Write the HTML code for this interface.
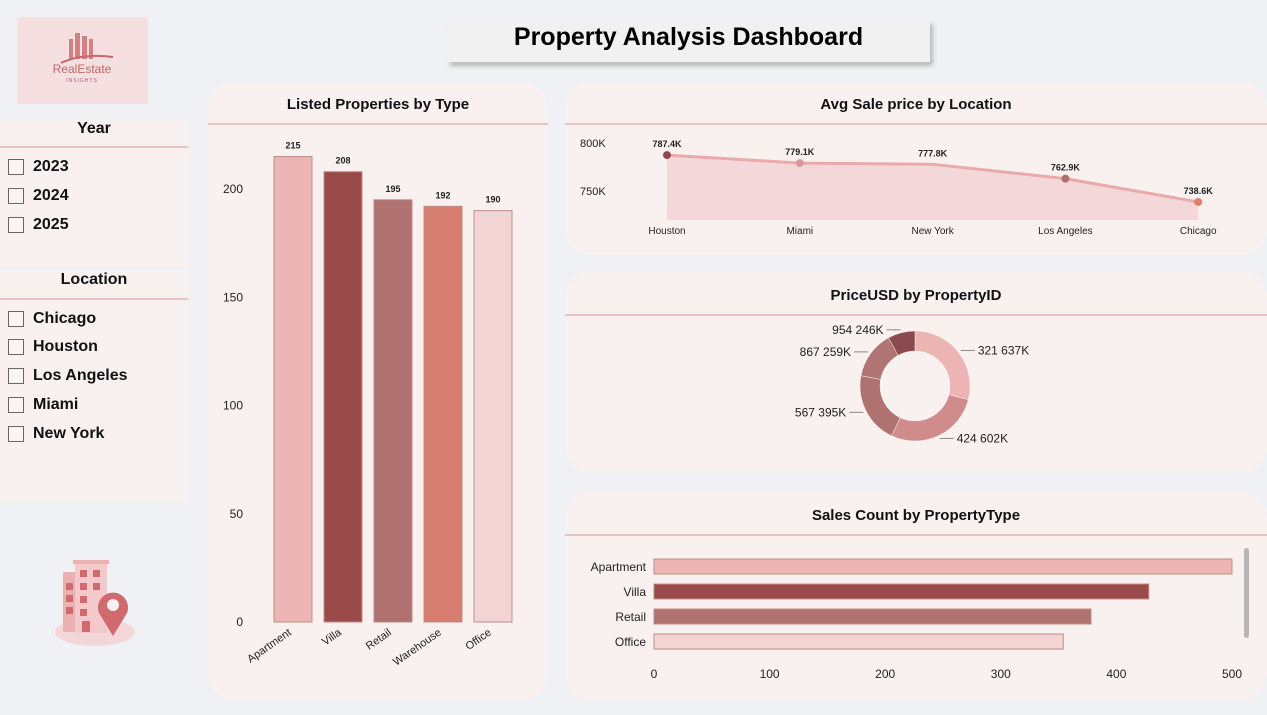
<!DOCTYPE html>
<html><head><meta charset="utf-8"><style>
body{margin:0;width:1267px;height:715px;background:#eff1f4;font-family:"Liberation Sans",Arial,sans-serif;position:relative;overflow:hidden}
.p{position:absolute;background:#f8f1f0;box-sizing:border-box}
.t{position:absolute;font-weight:bold;color:#111;text-align:center}
.ln{position:absolute;height:2px;background:#e6c4c4}
.it{position:absolute;left:8px;font-weight:bold;font-size:16px;color:#111;display:flex;align-items:center}
.cb{width:14px;height:14px;border:1px solid #666;margin-right:9px;background:#faf5f4}
svg text{font-family:"Liberation Sans",Arial,sans-serif}
</style></head><body>
<div style="position:absolute;left:17px;top:17px;width:131px;height:87px;background:#f6dfe0">
<svg width="131" height="87"><g fill="#d48080"><rect x="52" y="22" width="4" height="20"/><rect x="58" y="16" width="5" height="26"/><rect x="65" y="19" width="5" height="23"/><rect x="72" y="22" width="4" height="20"/></g><path d="M44 46 Q65 36 96 40" stroke="#c86a6a" stroke-width="2" fill="none"/>
<text x="65" y="56" font-size="12" fill="#c06868" text-anchor="middle">RealEstate</text><text x="65" y="65" font-size="5" fill="#b06060" text-anchor="middle" letter-spacing="1">INSIGHTS</text></svg></div>
<div style="position:absolute;left:447px;top:20px;width:483px;height:42px;background:#f1f1f2;box-shadow:3px 4px 4px #bbb;text-align:center;font-weight:bold;font-size:25px;line-height:34px;color:#000">Property Analysis Dashboard</div>

<div class="p" style="left:0;top:120px;width:188px;height:148px;border-radius:3px">
<div class="t" style="left:0;width:188px;top:0;font-size:16px">Year</div><div class="ln" style="left:0;width:188px;top:26px"></div>
<div class="it" style="top:38px"><span class="cb"></span>2023</div>
<div class="it" style="top:67px"><span class="cb"></span>2024</div>
<div class="it" style="top:96px"><span class="cb"></span>2025</div></div>

<div class="p" style="left:0;top:271px;width:188px;height:231px;border-radius:3px">
<div class="t" style="left:0;width:188px;top:0;font-size:16px">Location</div><div class="ln" style="left:0;width:188px;top:27px"></div>
<div class="it" style="top:39px"><span class="cb"></span>Chicago</div>
<div class="it" style="top:67px"><span class="cb"></span>Houston</div>
<div class="it" style="top:96px"><span class="cb"></span>Los Angeles</div>
<div class="it" style="top:125px"><span class="cb"></span>Miami</div>
<div class="it" style="top:154px"><span class="cb"></span>New York</div></div>

<svg style="position:absolute;left:50px;top:555px" width="90" height="100"><ellipse cx="45" cy="77" rx="40" ry="14" fill="#f2d6d8"/><rect x="13" y="17" width="18" height="60" fill="#eab1b3"/><rect x="25" y="8" width="32" height="70" fill="#f3c9cb"/><rect x="23" y="5" width="36" height="4" fill="#eab1b3"/>
<g fill="#d06a6e"><rect x="30" y="15" width="7" height="7"/><rect x="43" y="15" width="7" height="7"/><rect x="30" y="28" width="7" height="7"/><rect x="43" y="28" width="7" height="7"/><rect x="30" y="41" width="7" height="7"/><rect x="30" y="54" width="7" height="7"/><rect x="16" y="28" width="7" height="7"/><rect x="16" y="40" width="7" height="7"/><rect x="16" y="52" width="7" height="7"/><rect x="32" y="66" width="8" height="11"/>
<path d="M63 81 L49 58 A15 15 0 1 1 77 58 Z"/></g><circle cx="63" cy="50" r="6" fill="#f8f1f0"/></svg>

<div class="p" style="left:208px;top:82px;width:340px;height:618px;border-radius:26px">
<div class="t" style="left:0;width:340px;top:14px;font-size:15px">Listed Properties by Type</div><div class="ln" style="left:0;width:340px;top:41px"></div></div>
<div class="p" style="left:565px;top:82px;width:702px;height:173px;border-radius:26px">
<div class="t" style="left:0;width:702px;top:14px;font-size:15px">Avg Sale price by Location</div><div class="ln" style="left:0;width:702px;top:41px"></div></div>
<div class="p" style="left:565px;top:271px;width:702px;height:202px;border-radius:26px">
<div class="t" style="left:0;width:702px;top:16px;font-size:15px">PriceUSD by PropertyID</div><div class="ln" style="left:0;width:702px;top:43px"></div></div>
<div class="p" style="left:565px;top:492px;width:702px;height:208px;border-radius:26px">
<div class="t" style="left:0;width:702px;top:15px;font-size:15px">Sales Count by PropertyType</div><div class="ln" style="left:0;width:702px;top:42px"></div></div>

<svg id="charts" style="position:absolute;left:0;top:0" width="1267" height="715"></svg>
<script>
const barCats=["Apartment","Villa","Retail","Warehouse","Office"];
const barVals=[215,208,195,192,190];
const barTicks=[0,50,100,150,200];
const lineCats=["Houston","Miami","New York","Los Angeles","Chicago"];
const lineVals=[787.4,779.1,777.8,762.9,738.6];
const lineTicks=[750,800];
const donutLabels=["321 637K","424 602K","567 395K","867 259K","954 246K"];
const donutShares=[29,28,21,14,8];
const hCats=["Apartment","Villa","Retail","Office"];
const hVals=[500,428,378,354];
const hTicks=[0,100,200,300,400,500];

const NS="http://www.w3.org/2000/svg",S=document.getElementById('charts');
function mk(t,a,txt){const e=document.createElementNS(NS,t);for(const k in a)e.setAttribute(k,a[k]);if(txt!=null)e.textContent=txt;S.appendChild(e);return e;}
const barCols=["#ecb5b4","#9b4a4a","#b07270","#d67e70","#f3d4d4"];
// vertical bars
const yB=v=>622-v*2.165;
barTicks.forEach(t=>{const e=mk('text',{x:243,y:yB(t)+4,'font-size':12,'text-anchor':'end',fill:'#222'},t);});
barCats.forEach((c,i)=>{const x=274+i*50;
const r=mk('rect',{x:x,y:yB(barVals[i]),width:38,height:622-yB(barVals[i]),fill:barCols[i],stroke:'#c08a8a','stroke-width':1});

const v=mk('text',{x:x+19,y:yB(barVals[i])-8,'font-size':9,'font-weight':'bold','text-anchor':'middle',fill:'#222'},barVals[i]);

const l=mk('text',{x:x+18,y:634,'font-size':11,'text-anchor':'end',fill:'#222',transform:`rotate(-35 ${x+18} 634)`},c);
});
// line/area
const yL=v=>143+(800-v)*0.96, xL=i=>667+i*132.8;
lineTicks.forEach(t=>{const e=mk('text',{x:580,y:yL(t)+4,'font-size':11,fill:'#222'},t+'K');});
let d='';lineVals.forEach((v,i)=>{d+=(i?'L':'M')+xL(i)+' '+yL(v)+' ';});
const area=mk('path',{d:d+`L${xL(4)} 220 L${xL(0)} 220 Z`,fill:'#f4d8d9'});
const ln=mk('path',{d:d,fill:'none',stroke:'#eaaaaa','stroke-width':3});
const ptCols=["#8b4a4d","#d49a9a",null,"#b07070","#e07f70"];
lineVals.forEach((v,i)=>{if(ptCols[i]){const c=mk('circle',{cx:xL(i),cy:yL(v),r:4,fill:ptCols[i]});}
const t=mk('text',{x:xL(i),y:yL(v)-8,'font-size':9,'font-weight':'bold','text-anchor':'middle',fill:'#222'},v.toFixed(1)+'K');
const l=mk('text',{x:xL(i),y:234,'font-size':10,'text-anchor':'middle',fill:'#222'},lineCats[i]);});
// donut
const cx=915,cy=386,R=55,r0=35,dCols=["#ecb5b4","#cf8c8a","#b07270","#b07573","#8b4a4d"];
const tot=donutShares.reduce((a,b)=>a+b,0);let a0=0;
donutShares.forEach((s,i)=>{const a1=a0+s/tot*2*Math.PI;const P=(a,r)=>[cx+r*Math.sin(a),cy-r*Math.cos(a)];
const [x1,y1]=P(a0,R),[x2,y2]=P(a1,R),[x3,y3]=P(a1,r0),[x4,y4]=P(a0,r0),lg=(a1-a0)>Math.PI?1:0;
const p=mk('path',{d:`M${x1} ${y1}A${R} ${R} 0 ${lg} 1 ${x2} ${y2}L${x3} ${y3}A${r0} ${r0} 0 ${lg} 0 ${x4} ${y4}Z`,fill:dCols[i],stroke:'#f8f1f0','stroke-width':0.5});

const am=(a0+a1)/2,[ex,ey]=P(am,R+3),right=Math.sin(am)>0,lx=ex+(right?14:-14);
mk('polyline',{points:`${ex},${ey} ${ex+(right?4:-4)},${ey} ${lx},${ey}`,fill:'none',stroke:'#888'});
const t=mk('text',{x:lx+(right?3:-3),y:ey+4,'font-size':12,'text-anchor':right?'start':'end',fill:'#222'},donutLabels[i]);
a0=a1;});
// horizontal bars
const xH=v=>654+v*1.156,hCols=["#ecb5b4","#9b4a4a","#b07270","#f3d4d4"];
hTicks.forEach(t=>{const e=mk('text',{x:xH(t),y:678,'font-size':12,'text-anchor':'middle',fill:'#222'},t);});
hCats.forEach((c,i)=>{const y=559+i*25;
const r=mk('rect',{x:654,y:y,width:xH(hVals[i])-654,height:15,fill:hCols[i],stroke:'#c08a8a'});
const l=mk('text',{x:646,y:y+12,'font-size':12,'text-anchor':'end',fill:'#222'},c);});
const sb=mk('rect',{x:1244,y:548,width:5,height:90,rx:2.5,fill:'#b5b5b5'});
</script>
</body></html>
